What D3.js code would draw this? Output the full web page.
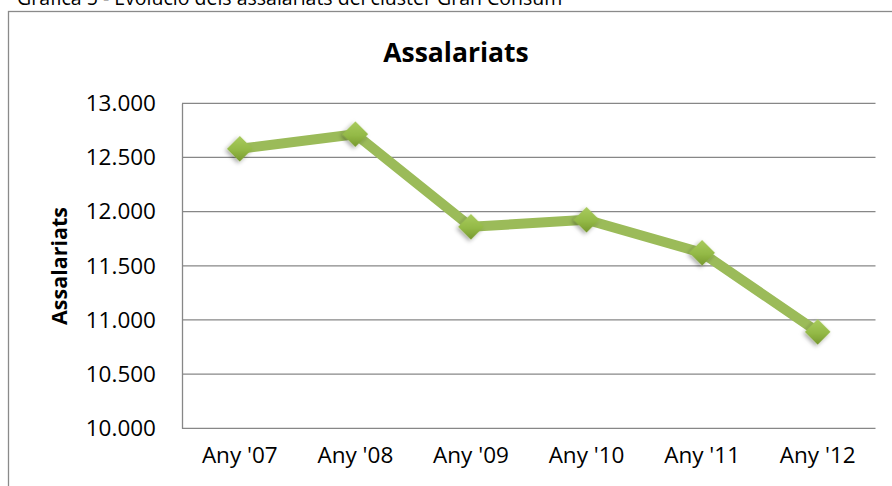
<!DOCTYPE html>
<html>
<head>
<meta charset="utf-8">
<script src="https://cdnjs.cloudflare.com/ajax/libs/d3/7.8.5/d3.min.js"></script>
<style>
body { margin: 0; background: #fff; }
svg { display: block; font-family: "Open Sans", sans-serif; }
.grid line { stroke: #878787; stroke-width: 1.3; }
.axis path, .axis line { stroke: #878787; stroke-width: 1.3; }
</style>
</head>
<body>
<svg width="892" height="486"></svg>
<script>
// dades llegides del grafic
var years = ["Any '07", "Any '08", "Any '09", "Any '10", "Any '11", "Any '12"];
var assalariats = [12580, 12715, 11860, 11925, 11620, 10890];
var yTicks = [10000, 10500, 11000, 11500, 12000, 12500, 13000];

var caption = "Gràfica 5 - Evolució dels assalariats del clúster Gran Consum";
var title = "Assalariats";

var margin = { top: 103.3, left: 182, right: 16.5, bottom: 58 };
var width = 892 - margin.left - margin.right;
var height = 428.3 - margin.top;

var svg = d3.select("svg");

// peu de grafica (tallat a dalt, com a l'original)
svg.append("text")
    .attr("x", 17)
    .attr("y", 5)
    .attr("font-size", 19.5)
    .attr("fill", "#000")
    .text(caption);

// marc del grafic
svg.append("rect")
    .attr("x", 8.5)
    .attr("y", 11.5)
    .attr("width", 900)
    .attr("height", 500)
    .attr("fill", "none")
    .attr("stroke", "#8a8a8a")
    .attr("stroke-width", 1.3);

var defs = svg.append("defs");
var grad = defs.append("linearGradient")
    .attr("id", "mk")
    .attr("x1", 0).attr("y1", 0)
    .attr("x2", 1).attr("y2", 1);
grad.append("stop").attr("offset", "0%").attr("stop-color", "#a9cb5e");
grad.append("stop").attr("offset", "55%").attr("stop-color", "#93b946");
grad.append("stop").attr("offset", "100%").attr("stop-color", "#76982f");

var shadow = defs.append("filter")
    .attr("id", "sh")
    .attr("x", "-50%").attr("y", "-50%")
    .attr("width", "200%").attr("height", "200%");
shadow.append("feDropShadow")
    .attr("dx", 0).attr("dy", 2.5)
    .attr("stdDeviation", 2)
    .attr("flood-color", "#000")
    .attr("flood-opacity", 0.35);

var g = svg.append("g")
    .attr("transform", "translate(" + margin.left + "," + margin.top + ")");

var x = d3.scaleBand()
    .domain(years)
    .range([0, width]);

var y = d3.scaleLinear()
    .domain([10000, 13000])
    .range([height, 0]);

var fmt = function(v) { return d3.format(",.0f")(v).replace(/,/g, "."); };

// linies de graella
g.append("g")
    .attr("class", "grid")
    .selectAll("line")
    .data(yTicks.filter(function(d) { return d > 10000; }))
    .enter().append("line")
    .attr("x1", 0)
    .attr("x2", width)
    .attr("y1", function(d) { return y(d); })
    .attr("y2", function(d) { return y(d); });

// eix Y
var yAxis = g.append("g")
    .attr("class", "axis")
    .call(d3.axisLeft(y).tickValues(yTicks).tickFormat(fmt).tickSize(0).tickPadding(26));
yAxis.selectAll("text")
    .attr("font-size", 22.5)
    .attr("font-family", "Open Sans, sans-serif")
    .attr("fill", "#000");

// eix X
var xAxis = g.append("g")
    .attr("class", "axis")
    .attr("transform", "translate(0," + height + ")")
    .call(d3.axisBottom(x).tickSize(0).tickPadding(19));
xAxis.select(".domain").attr("d", "M0,0H" + width);
xAxis.selectAll("text")
    .attr("font-size", 22.5)
    .attr("font-family", "Open Sans, sans-serif")
    .attr("fill", "#000");

// titol
svg.append("text")
    .attr("x", 456)
    .attr("y", 61.5)
    .attr("text-anchor", "middle")
    .attr("font-size", 26.5)
    .attr("font-weight", "bold")
    .attr("fill", "#000")
    .text(title);

// titol eix Y
svg.append("text")
    .attr("transform", "translate(66.5,266) rotate(-90)")
    .attr("text-anchor", "middle")
    .attr("font-size", 21.5)
    .attr("font-weight", "bold")
    .attr("fill", "#000")
    .text(title);

var line = d3.line()
    .x(function(d, i) { return x(years[i]) + x.bandwidth() / 2; })
    .y(function(d) { return y(d); });

g.append("path")
    .datum(assalariats)
    .attr("d", line)
    .attr("fill", "none")
    .attr("stroke", "#9bbb59")
    .attr("stroke-width", 10)
    .attr("stroke-linejoin", "round");

g.selectAll(".marker")
    .data(assalariats)
    .enter().append("path")
    .attr("class", "marker")
    .attr("d", d3.symbol(d3.symbolSquare, 330))
    .attr("transform", function(d, i) {
        return "translate(" + (x(years[i]) + x.bandwidth() / 2) + "," + y(d) + ") rotate(45)";
    })
    .attr("fill", "url(#mk)")
    .attr("filter", "url(#sh)");
</script>
</body>
</html>
